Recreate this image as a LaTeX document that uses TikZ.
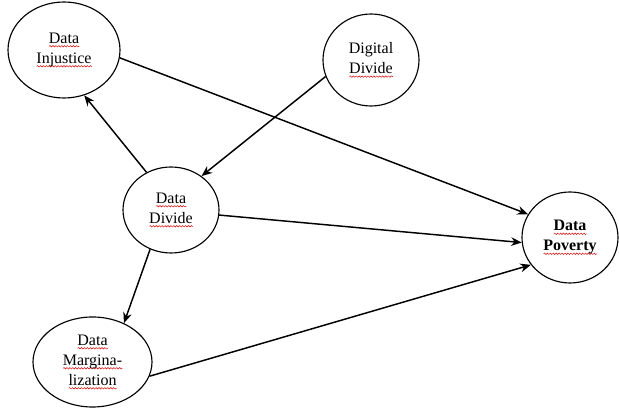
\documentclass[tikz,border=0pt]{standalone}
\usepackage{fontspec}
\setmainfont{Liberation Serif}
\usetikzlibrary{shapes.geometric,arrows.meta,decorations.pathmorphing}
\newsavebox\rwbox
\newcommand\rw[1]{\sbox\rwbox{#1}\rlap{\tikz[baseline=0pt]\draw[red!85!black,line width=0.35pt,decorate,decoration={snake,amplitude=0.55pt,segment length=2.2pt}] (0pt,-2.3pt) -- (\the\wd\rwbox,-2.3pt);}\usebox\rwbox}
\begin{document}
\begin{tikzpicture}[x=0.75pt,y=-0.75pt,
  bub/.style={ellipse, draw, line width=0.85pt, align=center, inner sep=0pt,
    font=\fontsize{12}{15}\selectfont},
  arr/.style={-{Stealth[length=8pt,width=6.5pt]}, line width=1.1pt}]
\useasboundingbox (0,0) rectangle (619,409);
\node[bub, minimum width=112*0.75pt, minimum height=96*0.75pt] (inj) at (64,50) {\rw{Data}\\\rw{Injustice}};
\node[bub, minimum width=96*0.75pt, minimum height=92*0.75pt] (dig) at (371,60) {Digital\\\rw{Divide}};
\node[bub, minimum width=96*0.75pt, minimum height=86*0.75pt] (div) at (171,210) {\rw{Data}\\\rw{Divide}};
\node[bub, minimum width=96*0.75pt, minimum height=91*0.75pt, font=\fontsize{12}{15}\selectfont\bfseries] (pov) at (570,237.5) {\rw{Data}\\\rw{Poverty}};
\node[bub, minimum width=119*0.75pt, minimum height=90*0.75pt] (mar) at (92.5,362) {\rw{Data}\\\rw{Margina-}\\\rw{lization}};
\draw[arr] (inj.-8.6) -- (pov.151.5);
\draw[arr] (dig.200.5) -- (div.48);
\draw[arr] (div.123) -- (inj.-66);
\draw[arr] (div.-6) -- (pov.186.5);
\draw[arr] (div.242) -- (mar.51);
\draw[arr] (mar.-14) -- (pov.215.5);
\end{tikzpicture}
\end{document}
